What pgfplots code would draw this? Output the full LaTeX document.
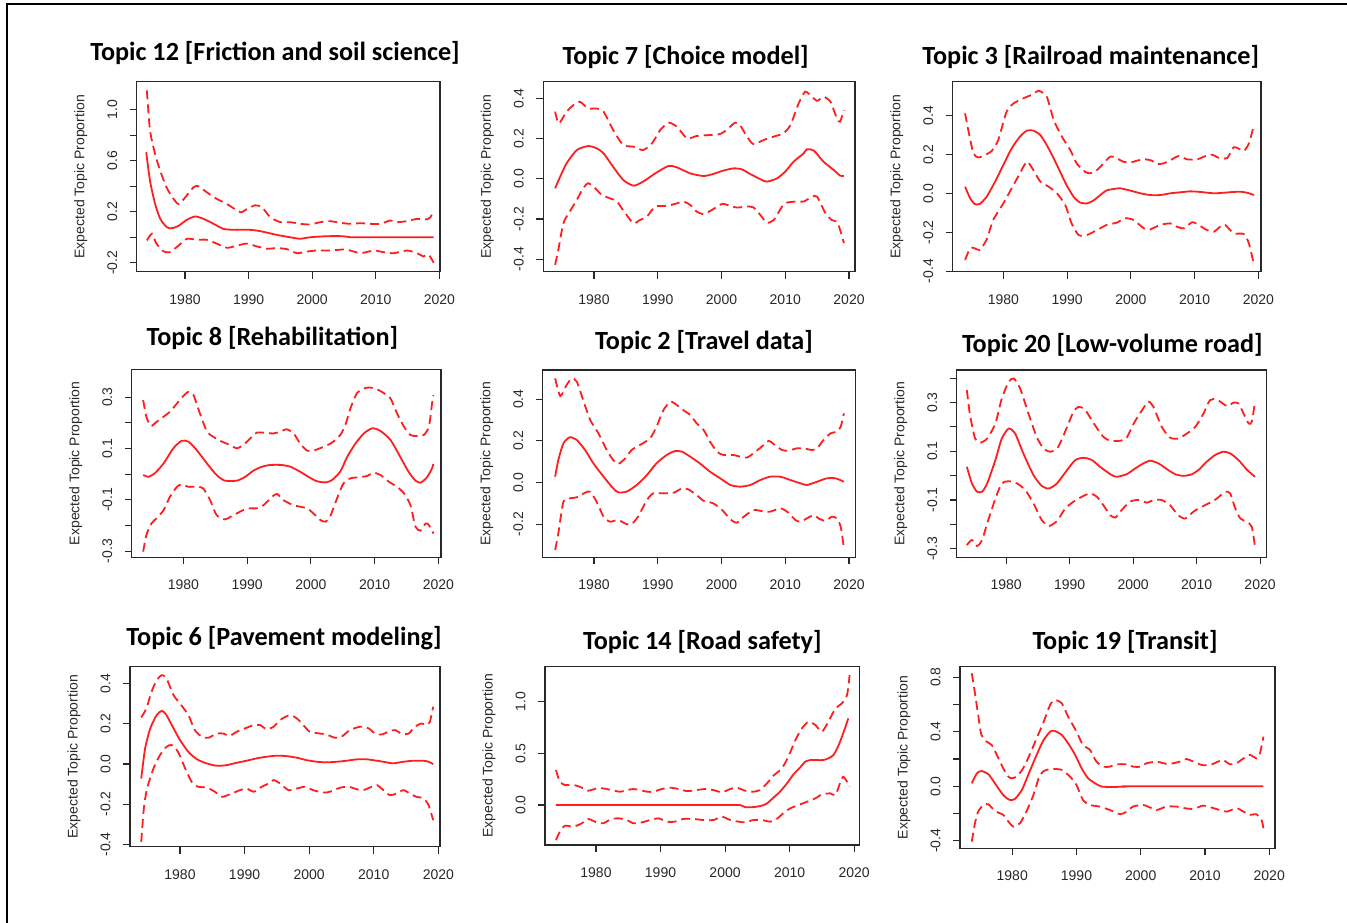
\documentclass[border=0pt]{standalone}
\usepackage{pgfplots}
\pgfplotsset{compat=1.18}
\usepackage{fontspec}
\setmainfont{Liberation Sans}
\newfontfamily\titlefont{Carlito}
\definecolor{rline}{RGB}{255,30,30}
\definecolor{axc}{RGB}{40,40,40}

\pgfplotsset{
  panel/.style={
    scale only axis,
    anchor=north west,
    axis line style={line width=1.3pt, axc},
    every tick/.style={line width=1.1pt, axc},
    tick align=outside, major tick length=7pt,
    xtick pos=bottom, ytick pos=left,
    xtick={1980,1990,2000,2010,2020},
    xticklabels={1980,1990,2000,2010,2020},
    x tick label style={yshift=-12pt, font=\fontsize{14}{15}\selectfont, text=axc},
    y tick label style={xshift=-9pt, font=\fontsize{14}{15}\selectfont, text=axc, rotate=90, anchor=south},
    ylabel={Expected Topic Proportion},
    every axis y label/.style={at={(axis description cs:0,0.5)}, anchor=center, xshift=-56pt, rotate=90, font=\fontsize{14}{15}\selectfont, text=axc},
  },
  sol/.style={rline, line width=1.8pt, smooth, tension=0.4},
  das/.style={rline, line width=1.8pt, dash pattern=on 9pt off 5pt, smooth, tension=0.4},
}

\begin{document}
\begin{tikzpicture}
\useasboundingbox (0pt,0pt) rectangle (1347pt,-922pt);
\draw[line width=2pt, black] (7pt,-930pt) -- (7pt,-4pt) -- (1360pt,-4pt);

% ---------- Panel 1: Topic 12
\begin{axis}[panel, at={(136.7pt,-81.7pt)}, width=303.3pt, height=190pt,
  xmin=1972.4, xmax=2020.1, ymin=-0.270, ymax=1.218,
  ytick={-0.2,0,0.2,0.4,0.6,0.8,1.0}, yticklabels={-0.2,{},0.2,{},0.6,{},1.0}]
\addplot[sol] coordinates {(1973.9,0.666)(1974.5,0.44)(1975.3,0.26)(1976.1,0.145)(1977.1,0.08)(1977.9,0.07)(1979,0.09)(1980.3,0.137)(1981.6,0.163)(1982.9,0.144)(1984.5,0.105)(1986,0.066)(1987.6,0.058)(1990.2,0.058)(1991.8,0.048)(1994.4,0.019)(1996.5,0.0)(1998.1,-0.012)(1999.7,0.0)(2002.3,0.008)(2004.9,0.008)(2006,0.0)(2010,0)(2015,0)(2019.1,0)};
\addplot[das] coordinates {(1974,1.15)(1974.5,0.836)(1975.3,0.65)(1976.1,0.52)(1977.1,0.39)(1978.2,0.30)(1979,0.26)(1980,0.31)(1981.3,0.39)(1982.1,0.40)(1983.4,0.353)(1985,0.30)(1986.6,0.26)(1988.7,0.196)(1989.7,0.22)(1991,0.25)(1992.1,0.235)(1993.4,0.157)(1995,0.118)(1996.5,0.118)(1998.1,0.105)(1999.7,0.10)(2001.3,0.118)(2002.8,0.126)(2004.4,0.113)(2006,0.105)(2007.6,0.11)(2009.1,0.105)(2010.7,0.105)(2012.3,0.131)(2013.3,0.118)(2014.9,0.126)(2016.5,0.144)(2018.1,0.14)(2018.6,0.157)(2019.1,0.21)};
\addplot[das] coordinates {(1974,-0.025)(1974.8,0.027)(1975.5,-0.05)(1976.6,-0.11)(1977.6,-0.117)(1979,-0.065)(1980.3,-0.012)(1981.8,-0.02)(1983.4,-0.02)(1985,-0.05)(1986.6,-0.083)(1988.2,-0.065)(1989.7,-0.05)(1991.3,-0.072)(1992.9,-0.09)(1994.4,-0.085)(1996,-0.093)(1997.6,-0.125)(1999.2,-0.112)(2000.7,-0.104)(2002.8,-0.104)(2004.9,-0.096)(2006,-0.104)(2007.6,-0.125)(2009.7,-0.104)(2011.2,-0.117)(2012.8,-0.125)(2014.9,-0.104)(2016.5,-0.125)(2017.5,-0.15)(2018.3,-0.135)(2019.1,-0.20)};
\end{axis}

% ---------- Panel 2: Topic 7
\begin{axis}[panel, at={(543.3pt,-81.7pt)}, width=311.7pt, height=190pt,
  xmin=1972.05, xmax=2020.94, ymin=-0.462, ymax=0.483,
  ytick={-0.4,-0.2,0,0.2,0.4}, yticklabels={-0.4,-0.2,0.0,0.2,0.4}]
\addplot[sol] coordinates {(1973.9,-0.047)(1974.7,0.011)(1975.7,0.077)(1977.3,0.143)(1979.1,0.163)(1980.4,0.152)(1981.5,0.127)(1983,0.06)(1984.6,-0.006)(1986.2,-0.034)(1987.7,-0.014)(1989.8,0.031)(1991.7,0.064)(1993,0.057)(1995.1,0.027)(1997.2,0.014)(1998.7,0.024)(2000.3,0.041)(2001.9,0.052)(2003.2,0.047)(2004.5,0.024)(2006.1,-0.002)(2007.1,-0.014)(2008.7,0.002)(2010,0.036)(2011.3,0.085)(2012.9,0.127)(2013.4,0.147)(2014.5,0.14)(2016,0.085)(2017.6,0.044)(2018.6,0.016)(2019.2,0.014)};
\addplot[das] coordinates {(1973.9,0.334)(1974.4,0.276)(1974.9,0.292)(1975.7,0.334)(1976.8,0.367)(1977.8,0.383)(1979.1,0.35)(1980.4,0.35)(1981.5,0.334)(1983,0.243)(1984.6,0.168)(1986.2,0.16)(1987.7,0.143)(1989.1,0.176)(1990.4,0.243)(1991.7,0.279)(1993,0.259)(1994.6,0.201)(1996.1,0.213)(1998.2,0.218)(1999.8,0.223)(2000.8,0.243)(2002.1,0.279)(2002.9,0.267)(2004,0.21)(2005,0.173)(2006.6,0.193)(2008.2,0.21)(2009.7,0.226)(2010.8,0.267)(2012.1,0.375)(2013.1,0.433)(2013.9,0.417)(2015,0.388)(2016,0.408)(2017.1,0.383)(2018.1,0.3)(2018.6,0.284)(2019.2,0.342)};
\addplot[das] coordinates {(1973.9,-0.428)(1974.4,-0.354)(1975.2,-0.221)(1976.2,-0.163)(1977.3,-0.105)(1978.3,-0.047)(1979.1,-0.022)(1980.2,-0.047)(1981.2,-0.08)(1982.5,-0.097)(1983.6,-0.113)(1984.9,-0.171)(1986.2,-0.221)(1987.2,-0.205)(1988.3,-0.188)(1989.6,-0.138)(1991.4,-0.135)(1993,-0.122)(1994,-0.113)(1995.1,-0.13)(1996.1,-0.163)(1997.2,-0.175)(1998.5,-0.155)(2000.1,-0.125)(2001.4,-0.135)(2002.4,-0.143)(2004,-0.138)(2005,-0.142)(2006.1,-0.18)(2007.1,-0.218)(2008.2,-0.205)(2009.5,-0.138)(2010.3,-0.118)(2011.8,-0.113)(2012.9,-0.113)(2014.2,-0.089)(2015,-0.089)(2016.3,-0.171)(2017.3,-0.205)(2018.1,-0.213)(2018.6,-0.254)(2019.2,-0.32)};
\end{axis}

% ---------- Panel 3: Topic 3
\begin{axis}[panel, at={(952.7pt,-81.7pt)}, width=308.3pt, height=190pt,
  xmin=1972.06, xmax=2020.4, ymin=-0.403, ymax=0.576,
  ytick={-0.4,-0.2,0,0.2,0.4}, yticklabels={-0.4,-0.2,0.0,0.2,0.4}]
\addplot[sol] coordinates {(1974,0.035)(1974.8,-0.025)(1975.5,-0.054)(1976.3,-0.054)(1977.4,-0.016)(1978.7,0.061)(1980,0.147)(1981.3,0.232)(1982.6,0.293)(1983.7,0.324)(1984.7,0.324)(1985.8,0.301)(1986.8,0.25)(1987.9,0.181)(1988.9,0.112)(1989.9,0.044)(1991,-0.016)(1992,-0.046)(1993.1,-0.051)(1994.1,-0.037)(1995.2,-0.008)(1996.2,0.016)(1997.3,0.023)(1998.3,0.027)(1999.9,0.015)(2001.5,0.001)(2003,-0.008)(2004.6,-0.008)(2006.2,0.001)(2007.7,0.006)(2009.3,0.011)(2010.9,0.008)(2013,0.001)(2014.6,0.004)(2016.1,0.008)(2017.2,0.009)(2018.2,0.004)(2019.3,-0.008)};
\addplot[das] coordinates {(1974,0.413)(1974.5,0.327)(1975.3,0.207)(1976.1,0.186)(1977.1,0.198)(1978.2,0.22)(1979.2,0.276)(1980.5,0.421)(1981.6,0.464)(1983.1,0.49)(1984.7,0.512)(1985.5,0.53)(1986.8,0.499)(1987.9,0.378)(1989.2,0.292)(1990.5,0.224)(1991.5,0.155)(1992.8,0.112)(1993.6,0.104)(1994.7,0.121)(1995.7,0.155)(1996.8,0.19)(1997.8,0.181)(1998.8,0.164)(1999.9,0.159)(2000.9,0.169)(2002.3,0.176)(2003.3,0.169)(2004.1,0.152)(2005.1,0.155)(2006.2,0.172)(2007.5,0.193)(2008.8,0.176)(2010.4,0.176)(2011.7,0.193)(2012.7,0.2)(2014,0.181)(2015.1,0.183)(2016.1,0.238)(2016.9,0.231)(2017.7,0.219)(2018.5,0.258)(2019.3,0.353)};
\addplot[das] coordinates {(1974,-0.342)(1974.8,-0.282)(1975.5,-0.282)(1976.3,-0.291)(1977.4,-0.236)(1978.4,-0.137)(1980,-0.051)(1981.6,0.044)(1982.6,0.104)(1983.7,0.164)(1984.7,0.121)(1985.8,0.061)(1987.1,0.035)(1988.4,0.001)(1989.7,-0.059)(1990.7,-0.154)(1991.8,-0.214)(1993.1,-0.214)(1994.7,-0.188)(1996.2,-0.162)(1997.8,-0.15)(1999.1,-0.128)(2000.4,-0.136)(2002,-0.179)(2003,-0.185)(2004.6,-0.162)(2006.2,-0.154)(2007.2,-0.171)(2008.3,-0.179)(2009.6,-0.148)(2010.6,-0.162)(2011.9,-0.188)(2013,-0.197)(2014,-0.171)(2014.8,-0.162)(2016.1,-0.205)(2017.7,-0.209)(2018.5,-0.257)(2019.3,-0.368)};
\end{axis}

% ---------- Panel 4: Topic 8
\begin{axis}[panel, at={(131.7pt,-369.3pt)}, width=309.3pt, height=188pt,
  xmin=1971.9, xmax=2020.4, ymin=-0.324, ymax=0.409,
  ytick={-0.3,-0.2,-0.1,0,0.1,0.2,0.3}, yticklabels={-0.3,{},-0.1,{},0.1,{},0.3}]
\addplot[sol] coordinates {(1973.7,-0.003)(1974.5,-0.01)(1975.5,0.003)(1976.9,0.042)(1978.4,0.1)(1979.7,0.13)(1980.8,0.127)(1982.1,0.094)(1983.7,0.042)(1985.2,-0.003)(1986.5,-0.025)(1988.4,-0.025)(1989.7,-0.01)(1991,0.014)(1992.3,0.029)(1993.6,0.036)(1995.4,0.036)(1996.8,0.029)(1998.3,0.01)(1999.6,-0.01)(2000.9,-0.027)(2002.3,-0.032)(2003.3,-0.023)(2004.6,0.01)(2005.7,0.068)(2007,0.12)(2008.3,0.159)(2009.6,0.179)(2010.9,0.169)(2012.5,0.133)(2014,0.068)(2015.3,0.01)(2016.4,-0.025)(2017.2,-0.033)(2018.2,-0.012)(2019,0.023)(2019.2,0.04)};
\addplot[das] coordinates {(1973.7,0.289)(1974.2,0.224)(1974.9,0.188)(1975.8,0.204)(1976.9,0.224)(1977.9,0.244)(1979,0.276)(1980,0.305)(1980.8,0.321)(1981.6,0.308)(1982.6,0.237)(1983.7,0.166)(1984.7,0.146)(1985.8,0.13)(1987.3,0.114)(1988.4,0.101)(1989.4,0.114)(1990.5,0.14)(1991.5,0.162)(1992.6,0.162)(1994.1,0.159)(1995.2,0.166)(1996.2,0.175)(1997.3,0.159)(1998.3,0.12)(1999.4,0.092)(2000.4,0.092)(2002,0.107)(2003.3,0.123)(2004.6,0.153)(2005.4,0.192)(2006.2,0.257)(2007.2,0.315)(2008.3,0.334)(2009.3,0.338)(2010.6,0.328)(2011.7,0.312)(2012.5,0.295)(2013.5,0.237)(2014.6,0.185)(2015.6,0.153)(2016.6,0.149)(2017.7,0.153)(2018.5,0.185)(2019,0.276)(2019.2,0.308)};
\addplot[das] coordinates {(1973.7,-0.302)(1974.2,-0.237)(1975,-0.192)(1975.8,-0.172)(1976.9,-0.14)(1977.9,-0.088)(1979,-0.049)(1979.7,-0.04)(1980.8,-0.049)(1982.1,-0.049)(1983.1,-0.055)(1984.2,-0.101)(1985.2,-0.159)(1986.5,-0.176)(1987.9,-0.159)(1989.4,-0.14)(1990.5,-0.133)(1991.5,-0.133)(1992.6,-0.12)(1993.9,-0.088)(1994.7,-0.077)(1995.7,-0.101)(1996.8,-0.116)(1997.8,-0.124)(1999.4,-0.133)(2000.4,-0.153)(2001.5,-0.179)(2002.3,-0.185)(2003,-0.166)(2004.1,-0.094)(2005.1,-0.036)(2006.2,-0.016)(2007.5,-0.012)(2008.8,-0.007)(2009.8,0.006)(2010.9,-0.003)(2012.2,-0.029)(2013.5,-0.049)(2014.6,-0.075)(2015.6,-0.12)(2016.4,-0.205)(2017.2,-0.22)(2018,-0.192)(2018.5,-0.198)(2019.2,-0.231)};
\end{axis}

% ---------- Panel 5: Topic 2
\begin{axis}[panel, at={(542.7pt,-370pt)}, width=313pt, height=187.3pt,
  xmin=1971.95, xmax=2021.05, ymin=-0.359, ymax=0.54,
  ytick={-0.2,0,0.2,0.4}, yticklabels={-0.2,0.0,0.2,0.4}]
\addplot[sol] coordinates {(1973.9,0.028)(1974.4,0.108)(1975.2,0.188)(1976.2,0.217)(1977.3,0.204)(1978.6,0.156)(1979.9,0.092)(1981.5,0.028)(1983,-0.028)(1983.8,-0.047)(1985.1,-0.044)(1986.7,-0.012)(1988.3,0.036)(1989.8,0.092)(1991.4,0.132)(1992.7,0.151)(1993.8,0.148)(1995.1,0.124)(1996.6,0.092)(1998.2,0.052)(1999.8,0.02)(2001.4,-0.012)(2002.9,-0.02)(2004.5,-0.012)(2006.1,0.012)(2007.6,0.028)(2009.2,0.028)(2010.8,0.012)(2012.4,-0.004)(2013.4,-0.012)(2015,0.004)(2016.5,0.02)(2017.9,0.02)(2019.2,0.004)};
\addplot[das] coordinates {(1973.9,0.5)(1974.7,0.415)(1975.7,0.468)(1976.5,0.5)(1977.3,0.484)(1978.3,0.396)(1979.4,0.3)(1980.7,0.236)(1982,0.156)(1983,0.108)(1983.8,0.089)(1984.9,0.116)(1985.9,0.156)(1987.2,0.18)(1988.8,0.212)(1989.8,0.268)(1990.9,0.348)(1992,0.388)(1993,0.372)(1994,0.348)(1995.1,0.324)(1996.1,0.284)(1997.2,0.252)(1998.2,0.196)(1999.3,0.148)(2000.3,0.132)(2001.9,0.132)(2002.9,0.124)(2004,0.12)(2005,0.14)(2006.3,0.172)(2007.4,0.2)(2008.2,0.184)(2009.5,0.156)(2010.5,0.153)(2011.8,0.164)(2012.9,0.164)(2014.2,0.156)(2015,0.164)(2016,0.204)(2017.1,0.236)(2018.1,0.244)(2018.7,0.268)(2019.2,0.332)};
\addplot[das] coordinates {(1973.9,-0.324)(1974.4,-0.244)(1975.2,-0.092)(1976.2,-0.076)(1977.3,-0.071)(1978.6,-0.049)(1979.4,-0.044)(1980.4,-0.092)(1981.5,-0.164)(1982.5,-0.188)(1983.8,-0.18)(1985.1,-0.2)(1985.9,-0.2)(1986.9,-0.164)(1988.3,-0.084)(1989.3,-0.052)(1990.9,-0.052)(1992.5,-0.049)(1993.8,-0.028)(1994.8,-0.033)(1996.1,-0.06)(1997.2,-0.088)(1998.7,-0.1)(2000.1,-0.132)(2001.4,-0.177)(2002.4,-0.193)(2003.5,-0.164)(2005,-0.132)(2006.1,-0.136)(2007.6,-0.14)(2009.2,-0.124)(2010.3,-0.14)(2011.6,-0.18)(2012.4,-0.188)(2013.4,-0.172)(2014.5,-0.156)(2015.2,-0.172)(2016.3,-0.184)(2017.3,-0.164)(2018.1,-0.172)(2018.7,-0.212)(2019.2,-0.316)};
\end{axis}

% ---------- Panel 6: Topic 20
\begin{axis}[panel, at={(956.7pt,-370pt)}, width=310pt, height=187.3pt,
  xmin=1972.2, xmax=2021.05, ymin=-0.335, ymax=0.433,
  ytick={-0.3,-0.2,-0.1,0,0.1,0.2,0.3,0.4}, yticklabels={-0.3,{},-0.1,{},0.1,{},0.3,{}}]
\addplot[sol] coordinates {(1973.8,0.036)(1974.6,-0.032)(1975.4,-0.066)(1976.2,-0.066)(1977,-0.032)(1978.3,0.064)(1979.3,0.152)(1980.4,0.193)(1981.4,0.173)(1982.7,0.091)(1984.3,0.002)(1985.6,-0.042)(1986.7,-0.053)(1988,-0.032)(1989.6,0.023)(1990.9,0.064)(1992.2,0.073)(1993.5,0.064)(1994.8,0.036)(1996.4,0.006)(1997.4,-0.005)(1999,0.006)(2000.3,0.029)(2001.6,0.05)(2002.7,0.061)(2004,0.05)(2005.3,0.027)(2006.6,0.006)(2007.9,-0.001)(2009.2,0.005)(2010.3,0.023)(2011.6,0.057)(2012.9,0.084)(2014.2,0.098)(2015.3,0.091)(2016.6,0.064)(2017.9,0.025)(2019.2,-0.005)};
\addplot[das] coordinates {(1973.8,0.35)(1974.3,0.248)(1975.1,0.152)(1975.9,0.135)(1977,0.152)(1978.3,0.214)(1979.3,0.316)(1980.4,0.385)(1981.2,0.398)(1982.2,0.357)(1983.5,0.255)(1984.8,0.159)(1985.9,0.111)(1987,0.098)(1988.2,0.118)(1989.6,0.2)(1990.6,0.262)(1991.4,0.282)(1992.4,0.271)(1993.8,0.214)(1995.3,0.159)(1996.4,0.143)(1998,0.143)(1999,0.156)(2000.1,0.214)(2001.4,0.268)(2002.4,0.303)(2003.2,0.282)(2004.5,0.2)(2005.8,0.156)(2007.1,0.152)(2008.5,0.173)(2009.8,0.2)(2011.1,0.255)(2012.1,0.309)(2013.2,0.312)(2014.8,0.285)(2015.8,0.299)(2016.6,0.296)(2017.4,0.255)(2018.2,0.214)(2018.7,0.221)(2019.2,0.303)};
\addplot[das] coordinates {(1973.8,-0.285)(1974.6,-0.264)(1975.4,-0.289)(1976.2,-0.264)(1977,-0.196)(1978.3,-0.094)(1979.3,-0.032)(1980.4,-0.023)(1981.7,-0.032)(1983,-0.059)(1984.3,-0.114)(1985.6,-0.182)(1986.7,-0.207)(1988,-0.186)(1989.3,-0.135)(1990.6,-0.107)(1991.9,-0.087)(1993.2,-0.073)(1994.3,-0.087)(1995.3,-0.121)(1996.4,-0.162)(1997.2,-0.172)(1998.2,-0.141)(1999.5,-0.107)(2000.8,-0.1)(2002.2,-0.111)(2003.2,-0.1)(2004.5,-0.1)(2005.8,-0.121)(2007.1,-0.162)(2008.2,-0.176)(2009.5,-0.148)(2010.8,-0.128)(2012.1,-0.111)(2013.2,-0.094)(2014.5,-0.066)(2015.3,-0.073)(2016.1,-0.135)(2016.9,-0.176)(2017.9,-0.189)(2018.7,-0.21)(2019.2,-0.292)};
\end{axis}

% ---------- Panel 7: Topic 6
\begin{axis}[panel, at={(130pt,-666.7pt)}, width=310pt, height=180pt,
  xmin=1972.26, xmax=2020.26, ymin=-0.411, ymax=0.483,
  ytick={-0.4,-0.2,0,0.2,0.4}, yticklabels={-0.4,-0.2,0.0,0.2,0.4}]
\addplot[sol] coordinates {(1974,-0.072)(1974.6,0.077)(1975.4,0.177)(1976.4,0.243)(1977.2,0.264)(1977.9,0.243)(1979,0.177)(1980,0.119)(1981.3,0.06)(1982.6,0.024)(1984.1,0.003)(1985.7,-0.009)(1987.2,-0.006)(1988.8,0.006)(1990.3,0.016)(1991.9,0.028)(1993.4,0.036)(1995,0.041)(1996.5,0.039)(1998.1,0.031)(1999.6,0.019)(2001.2,0.011)(2002.7,0.008)(2004.3,0.011)(2005.8,0.016)(2007.4,0.023)(2008.9,0.023)(2010.5,0.016)(2012,0.008)(2013,0.003)(2014.6,0.011)(2016.1,0.016)(2017.7,0.016)(2018.5,0.011)(2019.2,-0.001)};
\addplot[das] coordinates {(1974,0.231)(1974.8,0.276)(1975.6,0.359)(1976.4,0.417)(1977.2,0.441)(1977.9,0.425)(1979,0.342)(1980,0.3)(1981.3,0.243)(1982.3,0.168)(1983.4,0.135)(1984.4,0.13)(1985.7,0.151)(1986.7,0.151)(1987.7,0.14)(1988.8,0.16)(1990.1,0.177)(1991.4,0.193)(1992.4,0.193)(1993.4,0.173)(1994.5,0.185)(1995.5,0.218)(1997,0.243)(1998.1,0.226)(1999.1,0.193)(2000.1,0.16)(2001.7,0.151)(2002.7,0.146)(2004,0.13)(2005,0.135)(2006.3,0.168)(2007.9,0.185)(2009.2,0.177)(2010.2,0.151)(2011.2,0.146)(2012.5,0.163)(2013.3,0.168)(2014.3,0.151)(2015.4,0.151)(2016.4,0.185)(2017.4,0.201)(2018.2,0.193)(2018.7,0.21)(2019.2,0.284)};
\addplot[das] coordinates {(1974,-0.387)(1974.4,-0.221)(1974.9,-0.122)(1975.9,-0.022)(1976.9,0.044)(1977.9,0.085)(1978.7,0.094)(1979.7,0.06)(1980.8,-0.022)(1981.8,-0.088)(1982.8,-0.113)(1984.1,-0.117)(1985.4,-0.138)(1986.5,-0.163)(1987.7,-0.151)(1989.3,-0.13)(1990.3,-0.122)(1991.4,-0.138)(1992.4,-0.118)(1993.7,-0.097)(1994.5,-0.08)(1995.5,-0.097)(1996.8,-0.13)(1998.1,-0.122)(1999.4,-0.113)(2000.6,-0.13)(2002.2,-0.142)(2003.2,-0.138)(2004.8,-0.118)(2006.1,-0.113)(2007.4,-0.126)(2008.4,-0.13)(2009.7,-0.113)(2010.5,-0.105)(2011.5,-0.13)(2012.5,-0.155)(2013.5,-0.147)(2014.6,-0.13)(2015.6,-0.147)(2016.6,-0.163)(2017.7,-0.171)(2018.5,-0.205)(2019.2,-0.279)};
\end{axis}

% ---------- Panel 8: Topic 14
\begin{axis}[panel, at={(545pt,-666.7pt)}, width=314.3pt, height=178.3pt,
  xmin=1972.1, xmax=2020.8, ymin=-0.387, ymax=1.339,
  ytick={0,0.5,1.0}, yticklabels={0.0,0.5,1.0}]
\addplot[sol] coordinates {(1973.8,0)(1980,0)(1990,0)(2000,0)(2002.3,0)(2003.1,-0.02)(2004.4,-0.02)(2005.7,-0.006)(2006.5,0.016)(2007.5,0.071)(2008.5,0.129)(2009.6,0.21)(2010.6,0.297)(2011.6,0.361)(2012.4,0.419)(2013.2,0.435)(2014.2,0.435)(2015.2,0.435)(2016,0.452)(2016.8,0.484)(2017.6,0.58)(2018.3,0.694)(2019.1,0.839)};
\addplot[das] coordinates {(1973.8,0.339)(1974.4,0.226)(1975.2,0.194)(1976.5,0.194)(1977.5,0.177)(1978.8,0.139)(1980.1,0.161)(1981.1,0.161)(1982.4,0.145)(1983.7,0.129)(1984.8,0.145)(1985.8,0.155)(1986.8,0.145)(1987.9,0.129)(1988.9,0.129)(1990.2,0.155)(1991.5,0.168)(1992.8,0.155)(1994.1,0.135)(1995.6,0.145)(1996.9,0.155)(1998.2,0.145)(1999.5,0.123)(2000.8,0.155)(2001.8,0.168)(2003.1,0.139)(2004.4,0.129)(2005.4,0.145)(2006.5,0.21)(2007.5,0.284)(2008.8,0.355)(2009.8,0.468)(2010.9,0.629)(2011.9,0.742)(2012.9,0.806)(2014,0.774)(2015,0.71)(2016,0.806)(2017.1,0.935)(2018.1,0.984)(2018.9,1.065)(2019.3,1.258)};
\addplot[das] coordinates {(1973.8,-0.339)(1974.4,-0.258)(1975.2,-0.2)(1976.5,-0.21)(1977.8,-0.177)(1978.8,-0.135)(1980.1,-0.168)(1981.1,-0.177)(1982.4,-0.135)(1983.5,-0.129)(1984.8,-0.145)(1985.8,-0.177)(1987.1,-0.168)(1988.4,-0.145)(1989.7,-0.129)(1991,-0.161)(1992.2,-0.161)(1993.5,-0.135)(1995.1,-0.135)(1996.6,-0.145)(1998.2,-0.145)(1999.5,-0.113)(2000.8,-0.145)(2002.1,-0.161)(2003.1,-0.168)(2004.4,-0.145)(2005.7,-0.145)(2007,-0.161)(2008,-0.135)(2009,-0.081)(2010.1,-0.032)(2011.4,0)(2012.7,0.032)(2014,0.065)(2015,0.103)(2016.3,0.113)(2017.1,0.097)(2017.8,0.21)(2018.3,0.274)(2018.9,0.226)(2019.3,0.177)};
\end{axis}

% ---------- Panel 9: Topic 19
\begin{axis}[panel, at={(960pt,-666.7pt)}, width=315pt, height=181.6pt,
  xmin=1971.87, xmax=2020.9, ymin=-0.455, ymax=0.877,
  ytick={-0.4,-0.2,0,0.2,0.4,0.6,0.8}, yticklabels={-0.4,{},0.0,{},0.4,{},0.8}]
\addplot[sol] coordinates {(1973.7,0.022)(1974.5,0.095)(1975.2,0.112)(1976.3,0.088)(1977.3,0.022)(1978.6,-0.064)(1979.6,-0.1)(1980.4,-0.093)(1981.5,-0.027)(1982.7,0.108)(1983.8,0.23)(1984.8,0.333)(1985.9,0.401)(1986.6,0.406)(1987.7,0.377)(1988.7,0.315)(1989.8,0.23)(1990.8,0.132)(1991.8,0.059)(1992.9,0.022)(1993.9,-0.002)(1995.7,-0.005)(1997.8,-0.002)(1998,0.0)(2005,0)(2012,0)(2019.1,0)};
\addplot[das] coordinates {(1973.7,0.829)(1974.2,0.682)(1974.7,0.523)(1975.2,0.377)(1976,0.328)(1976.8,0.303)(1977.6,0.23)(1978.6,0.132)(1979.4,0.071)(1979.9,0.059)(1980.7,0.071)(1981.7,0.132)(1982.7,0.23)(1983.8,0.352)(1984.8,0.462)(1985.9,0.597)(1986.6,0.633)(1987.7,0.609)(1988.7,0.511)(1990,0.401)(1991,0.303)(1992.1,0.267)(1993.1,0.181)(1994.2,0.144)(1995.2,0.144)(1996.2,0.161)(1997.8,0.161)(1998.8,0.144)(1999.9,0.144)(2000.9,0.169)(2002.5,0.181)(2003.5,0.169)(2004.5,0.164)(2006.1,0.181)(2007.1,0.2)(2008.2,0.181)(2009.5,0.156)(2010.8,0.156)(2011.8,0.176)(2012.8,0.193)(2013.9,0.161)(2014.9,0.169)(2016,0.205)(2017,0.23)(2018,0.205)(2018.5,0.23)(2019.1,0.364)};
\addplot[das] coordinates {(1973.7,-0.406)(1974.2,-0.271)(1974.7,-0.186)(1975.5,-0.137)(1976.3,-0.132)(1977.3,-0.181)(1978.6,-0.21)(1979.4,-0.259)(1980.2,-0.296)(1981.2,-0.271)(1982.2,-0.186)(1983.3,-0.064)(1984.3,0.083)(1985.3,0.12)(1986.4,0.127)(1987.7,0.12)(1989,0.071)(1990,0.01)(1991,-0.1)(1992.1,-0.137)(1993.6,-0.149)(1995.2,-0.174)(1996.8,-0.205)(1997.8,-0.186)(1998.8,-0.149)(2000.4,-0.137)(2001.7,-0.161)(2002.5,-0.174)(2004,-0.149)(2005.6,-0.149)(2006.9,-0.161)(2008.2,-0.166)(2009.7,-0.142)(2011,-0.156)(2012.3,-0.174)(2013.4,-0.186)(2014.9,-0.161)(2016,-0.186)(2017,-0.21)(2018,-0.205)(2018.8,-0.247)(2019.1,-0.308)};
\end{axis}

% ---------- Titles
\begin{scope}[every node/.style={font=\titlefont\fontsize{26.2}{29}\selectfont\bfseries, anchor=center, inner sep=0pt}]
\node at (275pt,-53pt) {Topic 12 [Friction and soil science]};
\node at (685.7pt,-56.7pt) {Topic 7 [Choice model]};
\node at (1090.7pt,-56.7pt) {Topic 3 [Railroad maintenance]};
\node at (272.3pt,-338.3pt) {Topic 8 [Rehabilitation]};
\node at (704pt,-341.7pt) {Topic 2 [Travel data]};
\node at (1112.3pt,-345pt) {Topic 20 [Low-volume road]};
\node at (284pt,-638.3pt) {Topic 6 [Pavement modeling]};
\node at (702.3pt,-641.7pt) {Topic 14 [Road safety]};
\node at (1125pt,-641.7pt) {Topic 19 [Transit]};
\end{scope}
\end{tikzpicture}
\end{document}
